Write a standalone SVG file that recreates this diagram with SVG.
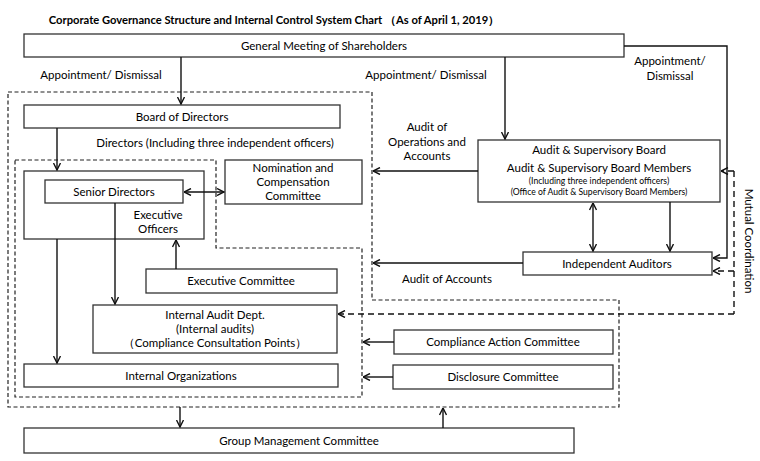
<svg xmlns="http://www.w3.org/2000/svg" width="760" height="461" viewBox="0 0 760 461">
<defs>
<marker id="ah" viewBox="0 0 8 8" refX="7.5" refY="4" markerWidth="8" markerHeight="8" markerUnits="userSpaceOnUse" orient="auto-start-reverse">
<path d="M0.5,0.5 L7.5,4 L0.5,7.5" fill="none" stroke="#111" stroke-width="1.4"/>
</marker>
</defs>
<style>
.box{fill:#fff;stroke:#333;stroke-width:1.3}
.t{font-family:Lato,"Liberation Sans",sans-serif;font-size:11.5px;fill:#000;text-anchor:middle}
.s{font-family:Lato,"Liberation Sans",sans-serif;font-size:8.6px;fill:#000;text-anchor:middle}
.l{fill:none;stroke:#111;stroke-width:1.4}
.a{fill:none;stroke:#111;stroke-width:1.4;marker-end:url(#ah)}
.d{fill:none;stroke:#222;stroke-width:1.2;stroke-dasharray:4,2.5}
.da{fill:none;stroke:#111;stroke-width:1.4;stroke-dasharray:6,4;marker-end:url(#ah)}
</style>
<rect width="760" height="461" fill="#fff"/>
<text x="274" y="24" class="t" style="font-weight:bold;font-size:11.2px">Corporate Governance Structure and Internal Control System Chart （As of April 1, 2019）</text>

<g id="regions">
<path class="d" d="M8,92 H372 V300 H619 V407 H8 Z"/>
<path class="d" d="M15,160 H216 V248 H362 V397 H15 Z"/>
</g>

<g id="gm"><rect class="box" x="24" y="34" width="600" height="23"/><text x="324" y="50" class="t">General Meeting of Shareholders</text></g>
<g id="board"><rect class="box" x="24" y="105" width="316" height="23"/><text x="182" y="121" class="t">Board of Directors</text></g>
<g id="exec-officers"><rect class="box" x="24" y="171" width="180" height="68"/><text x="158" y="219" class="t">Executive</text><text x="158" y="233" class="t">Officers</text></g>
<g id="senior"><rect class="box" x="45" y="180" width="138" height="23"/><text x="114" y="196" class="t">Senior Directors</text></g>
<g id="nomination"><rect class="box" x="225" y="160" width="137" height="44"/><text x="293" y="172" class="t">Nomination and</text><text x="293" y="186" class="t">Compensation</text><text x="293" y="200" class="t">Committee</text></g>
<g id="exec-committee"><rect class="box" x="146" y="269" width="191" height="24"/><text x="241" y="285" class="t">Executive Committee</text></g>
<g id="internal-audit"><rect class="box" x="93" y="305" width="244" height="48"/><text x="215" y="319" class="t">Internal Audit Dept.</text><text x="215" y="333" class="t">(Internal audits)</text><text x="215" y="347" class="t">（Compliance Consultation Points）</text></g>
<g id="internal-org"><rect class="box" x="24" y="364" width="314" height="23"/><text x="181" y="380" class="t">Internal Organizations</text></g>
<g id="audit-board"><rect class="box" x="478" y="140" width="242" height="62"/><text x="599" y="154" class="t">Audit &amp; Supervisory Board</text><text x="599" y="172" class="t">Audit &amp; Supervisory Board Members</text><text x="599" y="184" class="s">(Including three independent officers)</text><text x="599" y="195" class="s">(Office of Audit &amp; Supervisory Board Members)</text></g>
<g id="independent-auditors"><rect class="box" x="523" y="252" width="189" height="23"/><text x="617" y="268" class="t">Independent Auditors</text></g>
<g id="compliance"><rect class="box" x="394" y="330" width="219" height="24"/><text x="503" y="346" class="t">Compliance Action Committee</text></g>
<g id="disclosure"><rect class="box" x="393" y="365" width="220" height="24"/><text x="503" y="381" class="t">Disclosure Committee</text></g>
<g id="group"><rect class="box" x="24" y="428" width="550" height="25"/><text x="299" y="445" class="t">Group Management Committee</text></g>

<g id="connectors">
<path class="a" d="M181,57 V104"/>
<path class="a" d="M505,57 V139"/>
<path class="a" d="M624,46 H727 V258 H713"/>
<path class="a" d="M57,128 V170"/>
<path class="a" d="M184,192 H224" style="marker-start:url(#ah)"/>
<path class="a" d="M57,239 V363"/>
<path class="a" d="M115,203 V304"/>
<path class="a" d="M176,269 V240"/>
<path class="a" d="M478,171 H373"/>
<path class="a" d="M523,263 H373"/>
<path class="a" d="M593,203 V251" style="marker-start:url(#ah)"/>
<path class="a" d="M670,202 V251"/>
<path class="da" d="M734,171 H721"/>
<path class="da" d="M734,271 H713"/>
<path class="l" d="M734,171 V314" style="stroke-dasharray:6,4"/>
<path class="da" d="M734,314 H338"/>
<path class="a" d="M394,342 H363"/>
<path class="a" d="M393,377 H363"/>
<path class="a" d="M180,407 V427"/>
<path class="a" d="M443,428 V408"/>
</g>

<g id="labels">
<text x="101" y="79" class="t">Appointment/ Dismissal</text>
<text x="426" y="79" class="t">Appointment/ Dismissal</text>
<text x="670" y="65" class="t">Appointment/</text>
<text x="670" y="80" class="t">Dismissal</text>
<text x="215" y="147" class="t">Directors (Including three independent officers)</text>
<text x="427" y="131" class="t">Audit of</text>
<text x="427" y="146" class="t">Operations and</text>
<text x="427" y="160" class="t">Accounts</text>
<text x="447" y="283" class="t">Audit of Accounts</text>
<text x="0" y="0" class="t" transform="translate(745,241) rotate(90)">Mutual Coordination</text>
</g>
</svg>
